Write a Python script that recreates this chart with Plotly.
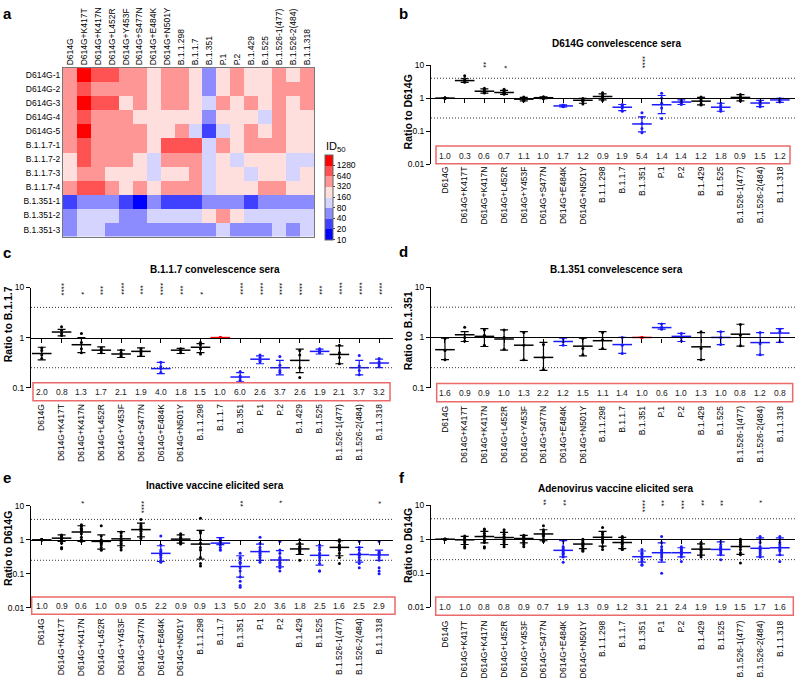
import plotly.graph_objects as go

W, H = 798, 685
FONT = "Liberation Sans, Arial, sans-serif"

# ---------------- data ----------------
variants = ["D614G", "D614G+K417T", "D614G+K417N", "D614G+L452R", "D614G+Y453F",
            "D614G+S477N", "D614G+E484K", "D614G+N501Y", "B.1.1.298", "B.1.1.7",
            "B.1.351", "P.1", "P.2", "B.1.429", "B.1.525", "B.1.526-1(477)",
            "B.1.526-2(484)", "B.1.1.318"]
sera = ["D614G-1", "D614G-2", "D614G-3", "D614G-4", "D614G-5",
        "B.1.1.7-1", "B.1.1.7-2", "B.1.1.7-3", "B.1.1.7-4",
        "B.1.351-1", "B.1.351-2", "B.1.351-3"]
id50_levels = [10, 20, 40, 80, 160, 320, 640, 1280]
heat_id50 = [
    [320, 1280, 640, 640, 320, 320, 160, 320, 320, 160, 40, 160, 320, 160, 160, 320, 160, 320],
    [320, 640, 320, 320, 320, 320, 160, 320, 320, 160, 40, 160, 320, 160, 160, 320, 320, 320],
    [320, 1280, 640, 640, 160, 320, 160, 320, 320, 160, 80, 320, 160, 320, 160, 320, 160, 320],
    [320, 640, 320, 320, 320, 160, 160, 160, 160, 160, 40, 160, 160, 160, 80, 320, 160, 160],
    [320, 1280, 320, 320, 320, 320, 160, 160, 320, 80, 20, 80, 160, 320, 160, 320, 160, 160],
    [320, 640, 320, 320, 320, 320, 160, 640, 640, 640, 80, 320, 160, 320, 320, 320, 160, 160],
    [160, 640, 320, 320, 320, 160, 80, 320, 320, 320, 80, 160, 80, 160, 160, 160, 80, 80],
    [160, 320, 320, 160, 160, 160, 80, 160, 160, 320, 80, 160, 160, 80, 160, 160, 80, 160],
    [320, 640, 640, 320, 160, 320, 160, 320, 320, 320, 80, 160, 160, 160, 320, 320, 160, 160],
    [20, 40, 40, 40, 20, 10, 40, 20, 20, 20, 40, 40, 40, 20, 40, 40, 40, 40],
    [40, 80, 80, 80, 40, 40, 80, 80, 80, 80, 160, 320, 160, 80, 80, 80, 80, 80],
    [40, 80, 80, 40, 40, 40, 40, 40, 40, 40, 40, 80, 40, 40, 40, 80, 40, 80],
]

# panel b: D614G convalescent sera (ratio to D614G)
b_mean = [1.0, 3.4, 1.62, 1.48, 0.93, 1.03, 0.58, 0.86, 1.12, 0.53, 0.165, 0.63, 0.76, 0.81, 0.53, 1.05, 0.71, 0.88]
b_lo = [1.0, 3.0, 1.42, 1.3, 0.82, 0.96, 0.54, 0.70, 0.88, 0.42, 0.095, 0.34, 0.64, 0.62, 0.40, 0.82, 0.55, 0.74]
b_hi = [1.0, 3.9, 1.9, 1.72, 1.05, 1.1, 0.62, 0.98, 1.35, 0.64, 0.27, 1.2, 0.88, 1.05, 0.70, 1.28, 0.85, 0.98]
b_points = [
    [1, 1, 1, 1, 1], [4.8, 3.9, 3.5, 3.2, 3.0], [2.0, 1.75, 1.6, 1.5, 1.42],
    [1.85, 1.6, 1.45, 1.4, 1.3], [1.08, 1.0, 0.95, 0.88, 0.82], [1.1, 1.06, 1.03, 1.0, 0.96],
    [0.62, 0.6, 0.58, 0.56, 0.55], [0.98, 0.93, 0.88, 0.8, 0.66], [1.45, 1.25, 1.1, 1.0, 0.85],
    [0.64, 0.6, 0.55, 0.5, 0.4], [0.36, 0.26, 0.17, 0.12, 0.09], [1.4, 1.0, 0.7, 0.5, 0.24],
    [0.86, 0.8, 0.75, 0.7, 0.64], [1.08, 0.9, 0.8, 0.68, 0.62], [0.7, 0.6, 0.52, 0.45, 0.4],
    [1.28, 1.1, 1.0, 0.9, 0.82], [0.82, 0.76, 0.7, 0.64, 0.55], [0.96, 0.92, 0.88, 0.82, 0.76],
]
b_fold = ["1.0", "0.3", "0.6", "0.7", "1.1", "1.0", "1.7", "1.2", "0.9", "1.9", "5.4", "1.4", "1.4", "1.2", "1.8", "0.9", "1.5", "1.2"]
b_stars = ["", "", "**", "*", "", "", "", "", "", "", "****", "", "", "", "", "", "", ""]
b_group = ["k", "k", "k", "k", "k", "k", "b", "k", "k", "b", "b", "b", "b", "k", "b", "k", "b", "b"]

# panel c: B.1.1.7 convalescent sera (ratio to B.1.1.7)
c_mean = [0.48, 1.29, 0.72, 0.56, 0.47, 0.53, 0.24, 0.56, 0.64, 1.0, 0.163, 0.37, 0.25, 0.35, 0.53, 0.46, 0.25, 0.31]
c_lo = [0.36, 1.08, 0.5, 0.48, 0.4, 0.42, 0.19, 0.48, 0.5, 1.0, 0.13, 0.3, 0.18, 0.2, 0.47, 0.3, 0.18, 0.25]
c_hi = [0.64, 1.46, 1.0, 0.65, 0.56, 0.62, 0.32, 0.61, 0.76, 1.0, 0.2, 0.43, 0.35, 0.59, 0.59, 0.68, 0.35, 0.37]
c_points = [
    [0.62, 0.55, 0.45, 0.38], [1.65, 1.4, 1.2, 1.1], [1.2, 0.8, 0.6, 0.5], [0.62, 0.58, 0.55, 0.5],
    [0.56, 0.5, 0.45, 0.42], [0.6, 0.55, 0.5, 0.45], [0.32, 0.26, 0.24, 0.2], [0.6, 0.57, 0.55, 0.5],
    [0.8, 0.72, 0.6, 0.47], [1, 1, 1, 1], [0.21, 0.17, 0.16, 0.14], [0.45, 0.4, 0.35, 0.33],
    [0.42, 0.28, 0.22, 0.2], [0.55, 0.45, 0.25, 0.16], [0.6, 0.55, 0.52, 0.5], [0.7, 0.5, 0.4, 0.3],
    [0.44, 0.27, 0.22, 0.18], [0.38, 0.33, 0.3, 0.27],
]
c_fold = ["2.0", "0.8", "1.3", "1.7", "2.1", "1.9", "4.0", "1.8", "1.5", "1.0", "6.0", "2.6", "3.7", "2.6", "1.9", "2.1", "3.7", "3.2"]
c_stars = ["", "****", "*", "***", "****", "***", "****", "***", "*", "", "****", "****", "****", "****", "***", "****", "****", "****"]
c_group = ["k", "k", "k", "k", "k", "k", "b", "k", "k", "r", "b", "b", "b", "k", "b", "k", "b", "b"]

# panel d: B.1.351 convalescent sera (ratio to B.1.351)
d_mean = [0.57, 1.13, 1.05, 0.93, 0.7, 0.4, 0.83, 0.67, 0.86, 0.72, 1.0, 1.57, 1.05, 0.65, 1.0, 1.16, 0.79, 1.22]
d_lo = [0.36, 0.83, 0.66, 0.56, 0.35, 0.22, 0.69, 0.43, 0.58, 0.48, 1.0, 1.46, 0.83, 0.36, 0.72, 0.67, 0.45, 0.8]
d_hi = [0.97, 1.31, 1.5, 1.42, 1.31, 0.8, 0.97, 0.97, 1.31, 1.0, 1.0, 1.89, 1.2, 1.25, 1.31, 1.83, 1.25, 1.5]
d_points = [
    [0.95, 0.55, 0.36], [1.6, 1.0, 0.85], [1.4, 1.1, 0.7], [1.4, 1.0, 0.58], [1.25, 0.7, 0.36],
    [0.72, 0.4, 0.23], [0.95, 0.82, 0.7], [0.95, 0.6, 0.45], [1.25, 0.9, 0.6], [1.0, 0.7, 0.48],
    [1, 1, 1], [1.85, 1.6, 1.45], [1.2, 1.0, 0.85], [1.3, 0.6, 0.36], [1.3, 1.0, 0.72],
    [1.8, 1.1, 0.68], [1.25, 0.75, 0.45], [1.45, 1.3, 0.82],
]
d_fold = ["1.6", "0.9", "0.9", "1.0", "1.3", "2.2", "1.2", "1.5", "1.1", "1.4", "1.0", "0.6", "1.0", "1.3", "1.0", "0.8", "1.2", "0.8"]
d_stars = [""] * 18
d_group = ["k", "k", "k", "k", "k", "k", "b", "k", "k", "b", "r", "b", "b", "k", "b", "k", "b", "b"]

# panel e: inactivated vaccine sera (ratio to D614G)
e_mean = [1.0, 1.12, 1.7, 0.9, 1.07, 2.0, 0.4, 1.05, 0.75, 0.8, 0.164, 0.45, 0.255, 0.54, 0.35, 0.6, 0.37, 0.36]
e_lo = [1.0, 0.9, 0.9, 0.53, 0.67, 1.22, 0.23, 0.8, 0.27, 0.72, 0.08, 0.25, 0.16, 0.37, 0.18, 0.34, 0.22, 0.25]
e_hi = [1.0, 1.4, 2.6, 1.4, 1.75, 3.1, 0.67, 1.4, 1.9, 1.17, 0.34, 0.75, 0.48, 0.75, 0.67, 0.94, 0.6, 0.5]
e_points = [
    [1] * 10,
    [1.4, 1.3, 1.2, 1.2, 1.1, 1.0, 0.9, 0.8, 0.6, 0.55],
    [2.8, 2.5, 2.2, 2.0, 2.0, 1.8, 1.5, 1.2, 1.0, 0.9],
    [2.6, 1.3, 1.0, 0.9, 0.85, 0.8, 0.7, 0.6, 0.5, 0.5],
    [1.7, 1.6, 1.3, 1.1, 1.0, 0.9, 0.8, 0.7, 0.6, 0.5],
    [4.0, 3.0, 2.6, 2.4, 2.2, 2.0, 1.8, 1.5, 1.3, 1.1],
    [1.3, 0.7, 0.5, 0.45, 0.4, 0.38, 0.35, 0.3, 0.25, 0.22],
    [1.5, 1.4, 1.2, 1.1, 1.0, 1.0, 0.9, 0.85, 0.8, 0.75],
    [4.3, 1.8, 1.6, 1.0, 0.8, 0.6, 0.5, 0.3, 0.2, 0.17],
    [1.1, 1.0, 0.9, 0.85, 0.8, 0.75, 0.7, 0.6, 0.5, 0.5],
    [0.4, 0.3, 0.28, 0.22, 0.2, 0.15, 0.12, 0.08, 0.06, 0.045, 0.04],
    [1.2, 0.8, 0.6, 0.5, 0.45, 0.4, 0.35, 0.3, 0.25, 0.22],
    [0.9, 0.5, 0.4, 0.3, 0.28, 0.25, 0.22, 0.2, 0.18, 0.15, 0.12],
    [1.0, 0.8, 0.65, 0.6, 0.55, 0.5, 0.5, 0.45, 0.4, 0.25],
    [0.7, 0.6, 0.5, 0.4, 0.35, 0.3, 0.25, 0.2, 0.12, 0.12],
    [1.0, 0.9, 0.7, 0.65, 0.6, 0.55, 0.5, 0.4, 0.3, 0.2],
    [0.9, 0.6, 0.5, 0.4, 0.38, 0.35, 0.3, 0.25, 0.2, 0.15],
    [0.9, 0.45, 0.42, 0.4, 0.35, 0.3, 0.25, 0.15, 0.12, 0.1],
]
e_fold = ["1.0", "0.9", "0.6", "1.0", "0.9", "0.5", "2.2", "0.9", "0.9", "1.3", "5.0", "2.0", "3.6", "1.8", "2.5", "1.6", "2.5", "2.9"]
e_stars = ["", "", "*", "", "", "****", "", "", "", "", "**", "", "*", "", "", "", "", "*"]
e_group = ["k", "k", "k", "k", "k", "k", "b", "k", "k", "b", "b", "b", "b", "k", "b", "k", "b", "b"]

# panel f: adenovirus vaccine sera (ratio to D614G)
f_mean = [1.0, 0.96, 1.2, 1.12, 1.05, 1.43, 0.47, 0.72, 1.14, 0.8, 0.305, 0.4, 0.4, 0.51, 0.5, 0.61, 0.54, 0.56]
f_lo = [1.0, 0.7, 0.78, 0.7, 0.78, 0.9, 0.3, 0.53, 0.63, 0.53, 0.21, 0.21, 0.3, 0.34, 0.34, 0.36, 0.3, 0.34]
f_hi = [1.0, 1.22, 1.7, 1.6, 1.3, 1.9, 0.91, 0.98, 1.7, 1.14, 0.45, 0.78, 0.56, 0.73, 0.84, 0.98, 1.1, 1.1]
f_points = [
    [1] * 10,
    [1.25, 1.1, 1.0, 1.0, 0.95, 0.9, 0.8, 0.7, 0.6, 0.55],
    [2.0, 1.9, 1.5, 1.3, 1.2, 1.0, 0.9, 0.8, 0.6, 0.55],
    [1.9, 1.6, 1.4, 1.2, 1.1, 1.0, 0.9, 0.8, 0.7, 0.6],
    [1.3, 1.25, 1.2, 1.1, 1.0, 1.0, 0.9, 0.8, 0.7, 0.6],
    [2.5, 1.9, 1.7, 1.5, 1.4, 1.3, 1.2, 1.0, 0.9, 0.85],
    [0.9, 0.6, 0.55, 0.5, 0.45, 0.4, 0.38, 0.35, 0.3, 0.21],
    [1.0, 0.9, 0.8, 0.75, 0.7, 0.65, 0.6, 0.5, 0.45, 0.45],
    [2.2, 1.6, 1.4, 1.2, 1.1, 1.0, 0.9, 0.8, 0.6, 0.5],
    [1.2, 1.1, 1.0, 0.9, 0.8, 0.75, 0.7, 0.6, 0.5, 0.5],
    [0.5, 0.4, 0.38, 0.35, 0.3, 0.28, 0.25, 0.22, 0.18, 0.17],
    [1.2, 0.8, 0.6, 0.5, 0.45, 0.4, 0.35, 0.3, 0.25, 0.1],
    [0.6, 0.55, 0.5, 0.45, 0.42, 0.4, 0.38, 0.35, 0.3, 0.22],
    [0.8, 0.7, 0.6, 0.55, 0.5, 0.5, 0.45, 0.4, 0.35, 0.3],
    [0.85, 0.7, 0.6, 0.55, 0.5, 0.5, 0.45, 0.4, 0.35, 0.25],
    [1.0, 0.9, 0.8, 0.7, 0.6, 0.6, 0.5, 0.4, 0.35, 0.2],
    [1.2, 1.0, 0.8, 0.6, 0.55, 0.5, 0.45, 0.4, 0.35, 0.3],
    [1.2, 1.0, 0.8, 0.7, 0.6, 0.55, 0.5, 0.45, 0.35, 0.22],
]
f_fold = ["1.0", "1.0", "0.8", "0.8", "0.9", "0.7", "1.9", "1.3", "0.9", "1.2", "3.1", "2.1", "2.4", "1.9", "1.9", "1.5", "1.7", "1.6"]
f_stars = ["", "", "", "", "", "**", "**", "", "", "", "****", "**", "***", "**", "**", "", "*", ""]
f_group = ["k", "k", "k", "k", "k", "k", "b", "k", "k", "k", "b", "b", "b", "k", "b", "k", "b", "b"]

y_tickvals = [0.01, 0.1, 1, 10]
y_ticktext = ["0.01", "0.1", "1", "10"]

# ---------------- styling / layout helpers ----------------
level_colors = ["#0000ff", "#4040ff", "#8c8cff", "#d4d4ff", "#ffdede", "#ff9696", "#ff5252", "#ff0000"]
group_colors = {"k": "#000000", "b": "#1a1aff", "r": "#ff0000"}


def fx(px):
    return px / W


def fy(py):
    return 1 - py / H


fig = go.Figure()
annotations = []
shapes = []
layout = {}

# ---------------- panel a: heatmap ----------------
nlev = len(id50_levels)
colorscale = []
for k, col in enumerate(level_colors):
    colorscale += [[k / nlev, col], [(k + 1) / nlev, col]]
zvals = [[id50_levels.index(v) + 0.5 for v in row] for row in heat_id50]
fig.add_trace(go.Heatmap(
    z=zvals, x=variants, y=sera, zmin=0, zmax=nlev, colorscale=colorscale,
    xaxis="x", yaxis="y", hoverinfo="skip",
    colorbar=dict(x=fx(325), xanchor="left", y=fy(238), yanchor="bottom",
                  len=85, lenmode="pixels", thickness=8, thicknessmode="pixels",
                  xpad=0, ypad=0, tickvals=list(range(nlev)),
                  ticktext=[str(v) for v in id50_levels],
                  tickfont=dict(size=8.5, family=FONT, color="#000"),
                  ticks="outside", ticklen=2, outlinewidth=1, outlinecolor="#666"),
))
layout["xaxis"] = dict(domain=[fx(63), fx(314)], side="top", tickangle=-90,
                       tickfont=dict(size=8.5, family=FONT, color="#000"), ticks="",
                       showline=True, mirror=True, linecolor="#777", linewidth=1,
                       anchor="y", showgrid=False, zeroline=False)
layout["yaxis"] = dict(domain=[fy(235), fy(64)], autorange="reversed",
                       tickfont=dict(size=8.5, family=FONT, color="#000"), ticks="",
                       showline=True, mirror=True, linecolor="#777", linewidth=1,
                       anchor="x", showgrid=False, zeroline=False)
annotations.append(dict(text="ID<sub>50</sub>", x=fx(324), y=fy(144), xref="paper", yref="paper",
                        xanchor="left", yanchor="middle", showarrow=False,
                        font=dict(size=11, family=FONT, color="#000")))

# ---------------- panels b-f ----------------
LEFT = dict(xdom=(31, 393), xrange=(-0.54, 17.7))
RIGHT = dict(xdom=(431, 795), xrange=(-0.71, 17.77))

panels = [
    dict(n=2, letter="b", letter_xy=(397, 9), side=RIGHT, title="D614G convelescence sera", title_y=39,
         ytitle="Ratio to D614G", ytitle_xy=(408, 109), ytop=61, ybot=161.5, yrange=(-2, 1),
         box=(436, 143, 790, 161), num_y=153, label_top=165, star_y=64, star_anchor="bottom",
         mean=b_mean, lo=b_lo, hi=b_hi, pts=b_points, fold=b_fold, stars=b_stars, grp=b_group),
    dict(n=3, letter="c", letter_xy=(1, 251), side=LEFT, title="B.1.1.7 convelescence sera", title_y=268,
         ytitle="Ratio to B.1.1.7", ytitle_xy=(8, 324), ytop=286.7, ybot=388.3, yrange=(-1, 1),
         box=(33, 383.3, 390, 401.7), num_y=393, label_top=405, star_y=294, star_anchor="bottom",
         mean=c_mean, lo=c_lo, hi=c_hi, pts=c_points, fold=c_fold, stars=c_stars, grp=c_group),
    dict(n=4, letter="d", letter_xy=(397, 250), side=RIGHT, title="B.1.351 convelescence sera", title_y=268,
         ytitle="Ratio to B.1.351", ytitle_xy=(408, 331), ytop=286.4, ybot=388.3, yrange=(-1, 1),
         box=(436.7, 384, 792.7, 402.7), num_y=393.3, label_top=407, star_y=294, star_anchor="bottom",
         mean=d_mean, lo=d_lo, hi=d_hi, pts=d_points, fold=d_fold, stars=d_stars, grp=d_group),
    dict(n=5, letter="e", letter_xy=(1, 480), side=LEFT, title="Inactive vaccine elicited sera", title_y=488,
         ytitle="Ratio to D614G", ytitle_xy=(8, 552), ytop=508.3, ybot=611.7, yrange=(-2, 1),
         box=(31.7, 600.7, 395, 618.3), num_y=610, label_top=623, star_y=503, star_anchor="top",
         mean=e_mean, lo=e_lo, hi=e_hi, pts=e_points, fold=e_fold, stars=e_stars, grp=e_group),
    dict(n=6, letter="f", letter_xy=(397, 480), side=RIGHT, title="Adenovirus vaccine elicited sera", title_y=491,
         ytitle="Ratio to D614G", ytitle_xy=(408, 549), ytop=507.7, ybot=611, yrange=(-2, 1),
         box=(435.7, 600.7, 793.3, 619.3), num_y=610.7, label_top=625, star_y=502, star_anchor="top",
         mean=f_mean, lo=f_lo, hi=f_hi, pts=f_points, fold=f_fold, stars=f_stars, grp=f_group),
]

TICKLEN = 4
STAR_STEP = 3.1

for p in panels:
    n = p["n"]
    xa, ya = f"x{n}", f"y{n}"
    side = p["side"]
    y0, y1 = p["yrange"]
    y_one = p["ytop"] + (p["ybot"] - p["ytop"]) * (y1 - 0) / (y1 - y0)
    standoff = int(round(max(0, p["label_top"] - y_one - TICKLEN - 6)))

    layout[f"xaxis{n}"] = dict(
        domain=[fx(side["xdom"][0]), fx(side["xdom"][1])], range=list(side["xrange"]),
        anchor="free", position=fy(y_one), showline=True, linecolor="#000", linewidth=1.2,
        ticks="outside", ticklen=TICKLEN, tickwidth=1, tickcolor="#000",
        tickvals=list(range(len(variants))), ticktext=variants, tickangle=-90,
        tickfont=dict(size=8.5, family=FONT, color="#000"), ticklabelstandoff=standoff,
        showgrid=False, zeroline=False)
    layout[f"yaxis{n}"] = dict(
        domain=[fy(p["ybot"]), fy(p["ytop"])], type="log", range=[y0, y1], anchor=xa,
        showline=True, linecolor="#000", linewidth=1, ticks="outside", ticklen=4,
        tickcolor="#000", tickvals=[v for v in y_tickvals if 10 ** y0 <= v <= 10 ** y1],
        ticktext=[t for v, t in zip(y_tickvals, y_ticktext) if 10 ** y0 <= v <= 10 ** y1],
        tickfont=dict(size=8.5, family=FONT, color="#000"), showgrid=False, zeroline=False)

    # dotted reference lines at 4-fold
    for yv in (4, 0.25):
        shapes.append(dict(type="line", xref=f"{xa} domain", yref=ya, x0=0, x1=1, y0=yv, y1=yv,
                           line=dict(color="#333", width=1, dash="1px,2px")))
    # red box with fold-change numbers
    bx0, by0, bx1, by1 = p["box"]
    shapes.append(dict(type="rect", xref="paper", yref="paper", x0=fx(bx0), x1=fx(bx1),
                       y0=fy(by1), y1=fy(by0), line=dict(color="#ec6a6a", width=1.5)))
    for i, t in enumerate(p["fold"]):
        annotations.append(dict(text=t, x=i, xref=xa, y=fy(p["num_y"]), yref="paper",
                                xanchor="center", yanchor="middle", showarrow=False,
                                font=dict(size=8.5, family=FONT, color="#222")))
    # significance stars
    for i, s in enumerate(p["stars"]):
        if not s:
            continue
        half = len(s) * STAR_STEP / 2
        cy = p["star_y"] - half if p["star_anchor"] == "bottom" else p["star_y"] + half
        annotations.append(dict(text=s, x=i, xref=xa, y=fy(cy), yref="paper", textangle=90,
                                xanchor="center", yanchor="middle", showarrow=False,
                                font=dict(size=8, family=FONT, color="#000")))
    # title, y-title
    cx = (side["xdom"][0] + side["xdom"][1]) / 2 + 3
    annotations.append(dict(text=f"<b>{p['title']}</b>", x=fx(cx), y=fy(p["title_y"]),
                            xref="paper", yref="paper", xanchor="center", yanchor="middle",
                            showarrow=False, font=dict(size=10, family=FONT, color="#000")))
    tx, ty = p["ytitle_xy"]
    annotations.append(dict(text=f"<b>{p['ytitle']}</b>", x=fx(tx), y=fy(ty), xref="paper",
                            yref="paper", xanchor="center", yanchor="middle", textangle=-90,
                            showarrow=False, font=dict(size=10.5, family=FONT, color="#000")))

    # data traces, grouped by colour
    for g in ("k", "b", "r"):
        idx = [i for i, gg in enumerate(p["grp"]) if gg == g]
        if not idx:
            continue
        col = group_colors[g]
        px_, py_ = [], []
        for i in idx:
            px_ += [i] * len(p["pts"][i])
            py_ += p["pts"][i]
        fig.add_trace(go.Scatter(x=px_, y=py_, xaxis=xa, yaxis=ya, mode="markers",
                                 marker=dict(size=3, color=col), hoverinfo="skip",
                                 showlegend=False, cliponaxis=False))
        fig.add_trace(go.Scatter(
            x=idx, y=[p["mean"][i] for i in idx], xaxis=xa, yaxis=ya, mode="markers",
            marker=dict(symbol="line-ew", size=14, color=col, line=dict(color=col, width=1.5)),
            error_y=dict(type="data", symmetric=False,
                         array=[p["hi"][i] - p["mean"][i] for i in idx],
                         arrayminus=[p["mean"][i] - p["lo"][i] for i in idx],
                         color=col, thickness=1.2, width=4),
            hoverinfo="skip", showlegend=False, cliponaxis=False))

# panel letters
for letter, (lx, ly) in [("a", (1, 9))] + [(p["letter"], p["letter_xy"]) for p in panels]:
    annotations.append(dict(text=f"<b>{letter}</b>", x=fx(lx), y=fy(ly), xref="paper", yref="paper",
                            xanchor="left", yanchor="middle", showarrow=False,
                            font=dict(size=15, family=FONT, color="#000")))

fig.update_layout(width=W, height=H, margin=dict(l=0, r=0, t=0, b=0), autosize=False,
                  paper_bgcolor="white", plot_bgcolor="white", showlegend=False,
                  font=dict(family=FONT, color="#000"),
                  annotations=annotations, shapes=shapes, **layout)

fig.write_html("out.html", config={"displayModeBar": False},
               post_script="document.body.style.margin='0';document.body.style.overflow='hidden';")
